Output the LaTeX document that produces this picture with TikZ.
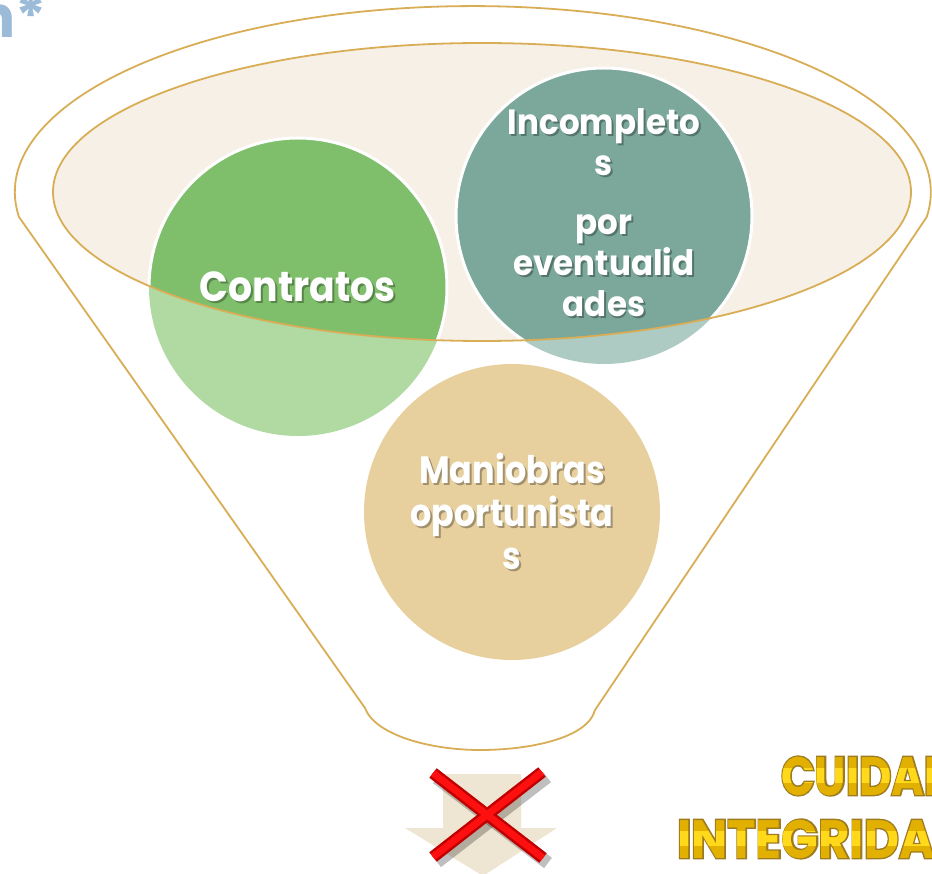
\documentclass[tikz,border=0pt]{standalone}
\usepackage{fontspec}
\newfontfamily\popa{Poppins}[FakeStretch=0.9]
\newfontfamily\popt{Poppins}[FakeStretch=0.93]
\newfontfamily\popm{Poppins}[FakeStretch=0.88]
\newfontfamily\pop{Poppins}
\newfontfamily\popg{Poppins}[FakeStretch=0.82]
\newfontfamily\popgo{Poppins}[FakeStretch=0.82,FakeBold=5]
\newfontfamily\popgb{Poppins}[FakeStretch=0.89]
\newfontfamily\popgbo{Poppins}[FakeStretch=0.89,FakeBold=5]
\definecolor{gold}{HTML}{D8AD55}
\definecolor{beige}{HTML}{F7F0E6}
\definecolor{gdark}{HTML}{7FBF6B}
\definecolor{glight}{HTML}{B1D9A2}
\definecolor{tdark}{HTML}{7BA89B}
\definecolor{tlight}{HTML}{AECBC3}
\definecolor{tanc}{HTML}{E8D09E}
\definecolor{arrowc}{HTML}{EFE5D3}
\definecolor{titleblue}{HTML}{9BBBD9}
\definecolor{goldtxt}{HTML}{E2B000}
\definecolor{goldhi}{HTML}{FFD91A}
\definecolor{goldedge}{HTML}{9C7B22}
\definecolor{xred}{HTML}{FF1010}
\definecolor{xdark}{HTML}{C00000}
\tikzset{
  circtxt/.style={text=white, inner sep=0, align=center},
  shadtxt/.style={text=black, text opacity=0.3, inner sep=0, align=center},
  funnelline/.style={draw=gold, line width=1.8pt},
  goldword/.style={inner sep=0, anchor=base west},
}
\begin{document}
\begin{tikzpicture}[x=1pt,y=-1pt]
\useasboundingbox (0,0) rectangle (932,874);
% title fragment
\node[text=titleblue, inner sep=0, anchor=base east, font={\pop\bfseries\fontsize{58}{60}\selectfont}] (title) at (47,38) {n*};
% funnel outline
\draw[funnelline] (19,217) arc[start angle=172.3, end angle=367.7, x radius=458, y radius=186]
  -- (595,710) .. controls (588,738) and (530,750) .. (480,750)
  .. controls (430,750) and (375,735) .. (365,708) -- cycle;
% inner ellipse fill
\fill[beige] (482,192) ellipse[x radius=429, y radius=149];
% circles (light parts)
\fill[glight] (298,287) circle[radius=149];
\fill[tlight] (604,216) circle[radius=148];
\fill[tanc] (512,512) circle[radius=148];
% dark parts inside ellipse
\begin{scope}
  \clip (482,192) ellipse[x radius=429, y radius=149];
  \filldraw[fill=gdark, draw=white, line width=3pt] (298,287) circle[radius=149];
  \filldraw[fill=tdark, draw=white, line width=3pt] (604,216) circle[radius=148];
\end{scope}
\draw[funnelline] (482,192) ellipse[x radius=429, y radius=149];
% texts
\node[shadtxt, anchor=base, font={\popa\bfseries\fontsize{42}{48}\selectfont}] (c1s) at (300,304) {Contratos};
\node[circtxt, anchor=base, font={\popa\bfseries\fontsize{42}{48}\selectfont}] (c1) at (298,302) {Contratos};
\node[shadtxt, font={\popt\bfseries\fontsize{35}{41}\selectfont}] (c2s) at (606,215) {Incompleto\\s\\[18pt]por\\eventualid\\ades};
\node[circtxt, font={\popt\bfseries\fontsize{35}{41}\selectfont}] (c2) at (604,213) {Incompleto\\s\\[18pt]por\\eventualid\\ades};
\node[shadtxt, font={\popm\bfseries\fontsize{38}{43}\selectfont}] (c3s) at (514,513) {Maniobras\\oportunista\\s};
\node[circtxt, font={\popm\bfseries\fontsize{38}{43}\selectfont}] (c3) at (512,511) {Maniobras\\oportunista\\s};
% down arrow
\fill[arrowc] (443,774) -- (521,774) -- (521,828) -- (557,828) -- (483,876) -- (405,828) -- (443,828) -- cycle;
% red cross
\begin{scope}[line cap=butt]
  \draw[black, opacity=0.25, line width=13pt] (437,778) -- (548,863);
  \draw[black, opacity=0.25, line width=13pt] (547,777) -- (437,862);
  \draw[xdark, line width=12pt] (433,773) -- (543,858);
  \draw[xdark, line width=12pt] (542,772) -- (433,857);
  \draw[xred, line width=7pt] (433,773) -- (543,858);
  \draw[xred, line width=7pt] (542,772) -- (433,857);
\end{scope}
% gold words
\node[goldword, text=goldedge, font={\popgo\bfseries\fontsize{54}{60}\selectfont}] (w1o) at (781,795) {CUIDAD};
\node[goldword, text=goldtxt, font={\popg\bfseries\fontsize{54}{60}\selectfont}] (w1) at (781,795) {CUIDAD};
\node[goldword, text=goldedge, font={\popgbo\bfseries\fontsize{54}{60}\selectfont}] (w2o) at (677,858) {INTEGRIDAD};
\node[goldword, text=goldtxt, font={\popgb\bfseries\fontsize{54}{60}\selectfont}] (w2) at (677,858) {INTEGRIDAD};
\begin{scope}
  \clip (600,768) rectangle (932,782) (600,831) rectangle (932,845);
  \node[goldword, text=goldhi, font={\popg\bfseries\fontsize{54}{60}\selectfont}] (w1h) at (781,795) {CUIDAD};
  \node[goldword, text=goldhi, font={\popgb\bfseries\fontsize{54}{60}\selectfont}] (w2h) at (677,858) {INTEGRIDAD};
\end{scope}
\end{tikzpicture}
\end{document}
